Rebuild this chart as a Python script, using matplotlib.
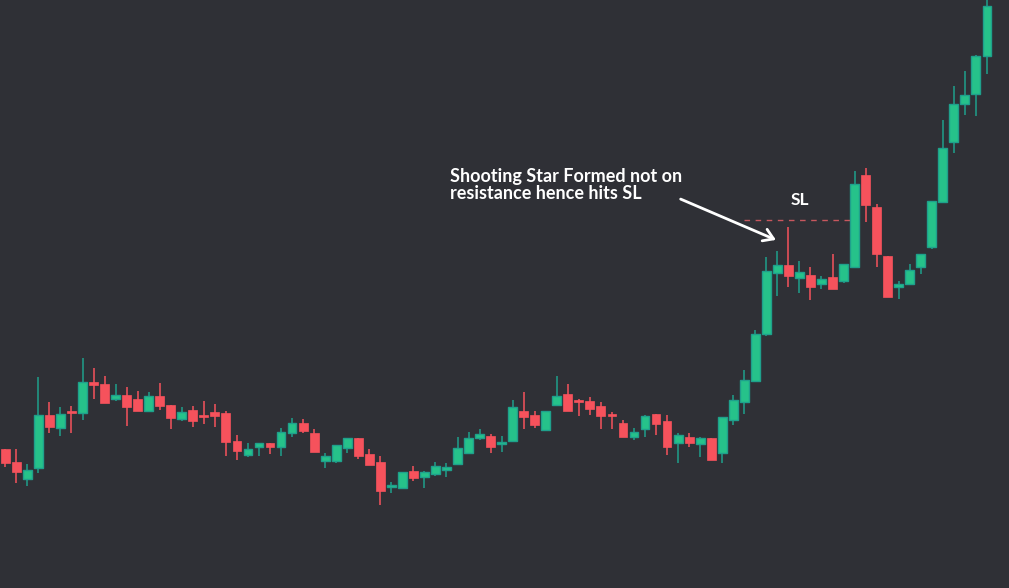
import matplotlib
matplotlib.use('Agg')
import matplotlib.pyplot as plt
import numpy as np

# OHLC values (arbitrary price units)
opens = [139, 126, 109.3, 120.3, 173, 160.3, 177, 175.3, 206, 204,
         189.3, 193, 189, 177.3, 192, 183, 169.3, 178, 173, 176,
         175, 147, 133.3, 141.3, 144.7, 141.3, 155.3, 165, 155, 126.7,
         126.7, 140.3, 150, 134, 126, 101.3, 100.3, 117, 111.3, 114.3,
         118.3, 123.7, 135.3, 150.3, 152, 144.3, 146.7, 177, 173, 158.3,
         183.3, 194, 187, 187, 182, 173, 165, 151.3, 159.3, 174,
         167, 145.3, 151, 144.3, 150, 135.3, 168.3, 186.3, 207.3, 253.7,
         314.7, 322.7, 309.7, 312.7, 303.7, 310.7, 306.7, 321.3, 412.7, 380.7,
         331.7, 300.7, 303.7, 320.7, 340.7, 385.7, 445.7, 483.7, 494.3, 531.7]
highs = [139, 139, 124, 211, 186, 181, 182, 230, 220, 212,
         204, 201, 197, 196, 205, 183, 181, 182, 187, 184,
         177, 153, 145, 144.7, 144.7, 160, 170, 169, 159, 135,
         143, 150, 150, 139, 132, 106, 115.7, 122, 117, 126,
         125, 151, 156, 159, 154, 152, 188, 196, 177, 177,
         212, 204, 189, 191, 186, 176, 168, 160, 173, 174,
         173, 155, 155, 151, 150, 170.7, 193, 218, 257.7, 331,
         336.7, 360.7, 326.7, 320.7, 311.7, 333.7, 323.7, 416.7, 419.7, 383.7,
         331.7, 306.7, 323.7, 333.7, 386.7, 468, 502, 517, 532.7, 593]
lows = [121.3, 105.3, 102.3, 115.3, 155.3, 152.3, 155.3, 168, 189.3, 185.3,
        187.3, 162.3, 177.3, 176.3, 178.3, 159.3, 167.3, 161.3, 164.3, 161.3,
        132.3, 128.3, 131.3, 132.3, 134.3, 132.3, 151.3, 155.3, 136.3, 120.3,
        125.3, 135.3, 129.3, 123.3, 83.3, 95.3, 100.3, 107.3, 100.3, 112.3,
        111.3, 123.7, 135.3, 148.3, 135.3, 136.3, 146.7, 159.3, 160.3, 158.3,
        183.3, 177.3, 172.3, 173.3, 159.3, 159.3, 151.3, 148.3, 151.3, 153.3,
        133.3, 125.3, 141.3, 131.3, 128.3, 125.3, 163.3, 174.3, 206.3, 251.7,
        291.7, 300.7, 294.7, 287.7, 298.7, 299.3, 304.7, 320.7, 365.7, 320.7,
        290.7, 288.7, 303.7, 313.7, 339.3, 385.7, 434.7, 473.3, 472.3, 514.3]
closes = [125.3, 116.3, 118, 173, 161.3, 174, 175.3, 206, 203.3, 185.3,
          193, 181.3, 177.3, 192, 182.3, 170.3, 176, 167.3, 171, 172.3,
          146.3, 137.3, 139, 144.7, 141.3, 156, 165, 157.3, 136.3, 132,
          143, 150, 132.3, 123.3, 97.3, 102.3, 115.7, 110.3, 115.7, 122,
          121, 140, 150, 154, 141.3, 145, 180.7, 171.3, 163.3, 177,
          191.7, 177.3, 186.3, 179.3, 172.3, 172.3, 151.3, 155.7, 171.7, 164.3,
          141.3, 152.7, 145.3, 149.7, 128.3, 170.7, 188, 208, 253.7, 316.7,
          322.7, 312.3, 315.7, 301.3, 308.7, 299.3, 323.7, 403.7, 382.7, 333.7,
          290.7, 303.7, 317.7, 333.7, 386.7, 439.7, 483.7, 492.7, 531.7, 581.7]

stop_loss = 368.5

BG = '#2f3036'
UP = '#26c28a'
UP_EDGE = '#1fa08c'
DOWN = '#f6525c'

opens = np.array(opens)
closes = np.array(closes)
highs = np.array(highs)
lows = np.array(lows)
idx = np.arange(len(opens))
up = closes >= opens

fig = plt.figure(figsize=(10.09, 5.88), dpi=100, facecolor=BG)
ax = fig.add_axes([0, 0, 1, 1], facecolor=BG)

# wicks
ax.vlines(idx[up], lows[up], highs[up], color=UP_EDGE, linewidth=1.1, zorder=1)
ax.vlines(idx[~up], lows[~up], highs[~up], color=DOWN, linewidth=1.1, zorder=1)

# bodies (give dojis a minimal height so they stay visible)
body_h = np.maximum(np.abs(closes - opens), 1.5)
body_b = np.minimum(opens, closes)
ax.bar(idx[up], body_h[up], bottom=body_b[up], width=0.8,
       color=UP, edgecolor=UP_EDGE, linewidth=1.0, zorder=2)
ax.bar(idx[~up], body_h[~up], bottom=body_b[~up], width=0.8,
       color=DOWN, edgecolor=DOWN, linewidth=0.5, zorder=2)

# stop-loss level
ax.hlines(stop_loss, 67.0, 77.0, colors='#c8575e', linewidth=1.0,
          linestyles=(0, (4, 4)), zorder=0)
ax.text(72.05, 388, 'SL', color='white', fontsize=12.5, fontweight='bold',
        family='Lato', ha='center', va='center')

ax.text(40.3, 420, 'Shooting Star Formed not on\nresistance hence hits SL',
        color='white', fontsize=13, fontweight='bold', family='Lato',
        ha='left', va='top', linespacing=0.98)
ax.annotate('', xy=(70.1, 347), xytext=(61.0, 390),
            arrowprops=dict(arrowstyle='->,head_length=0.7,head_width=0.45',
                            color='white', lw=2))

ax.set_xlim(-0.48, 91.0)
ax.set_ylim(0, 588)
ax.axis('off')

fig.savefig('out.png', dpi=100, facecolor=BG)
